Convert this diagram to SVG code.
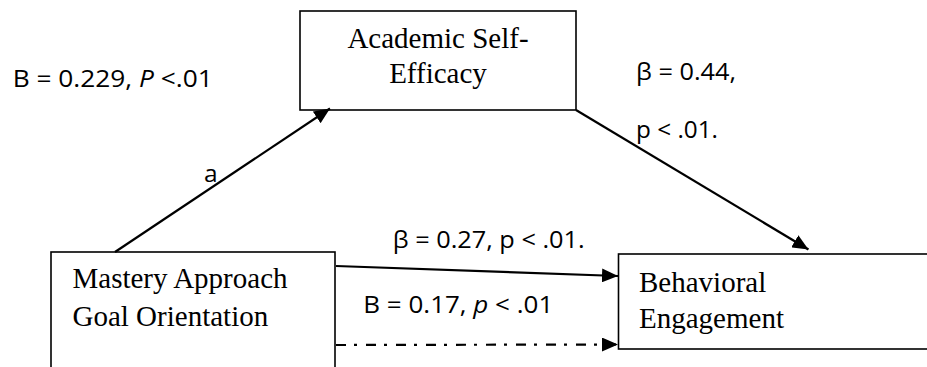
<svg xmlns="http://www.w3.org/2000/svg" width="927" height="367" viewBox="0 0 927 367">
<style>
.box{fill:#fff;stroke:#000;stroke-width:1.6}
.bt{font-family:"Liberation Serif","Times New Roman",serif;font-size:29px;fill:#000}
.lb{font-family:"Open Sans","Noto Sans",sans-serif;font-size:24.5px;fill:#000}
.ln{stroke:#000;stroke-width:2.2;fill:none}
.dd{stroke-dasharray:10 8 3 9}
</style>
<defs>
<marker id="ah" markerUnits="userSpaceOnUse" markerWidth="16" markerHeight="14" viewBox="0 0 16 14" refX="16" refY="7" orient="auto">
<path d="M0,0 L16,7 L0,14 z" fill="#000"/>
</marker>
</defs>
<rect width="927" height="367" fill="#fff"/>
<g id="n-ase">
<rect class="box" x="300" y="11" width="276" height="99"/>
<text class="bt" x="438" y="48" text-anchor="middle">Academic Self-</text>
<text class="bt" x="438" y="83" text-anchor="middle">Efficacy</text>
</g>
<g id="n-mag">
<rect class="box" x="51" y="252" width="284" height="130"/>
<text class="bt" x="72.5" y="288">Mastery Approach</text>
<text class="bt" x="72.5" y="326">Goal Orientation</text>
</g>
<g id="n-be">
<rect class="box" x="618.5" y="254" width="320" height="95"/>
<text class="bt" x="639" y="292">Behavioral</text>
<text class="bt" x="639" y="328">Engagement</text>
</g>
<g id="connectors">
<line class="ln" x1="115" y1="252" x2="330" y2="108.5" marker-end="url(#ah)"/>
<line class="ln" x1="576" y1="110" x2="808.5" y2="249.5" marker-end="url(#ah)"/>
<line class="ln" x1="336" y1="266" x2="618" y2="276" marker-end="url(#ah)"/>
<line class="ln dd" x1="336" y1="345" x2="618" y2="344.5" marker-end="url(#ah)"/>
</g>
<g id="labels">
<text class="lb" x="12.7" y="87" textLength="200" lengthAdjust="spacingAndGlyphs">B  = 0.229, <tspan font-style="italic">P</tspan> &lt;.01</text>
<text class="lb" x="636" y="80" textLength="100" lengthAdjust="spacingAndGlyphs">β = 0.44,</text>
<text class="lb" x="636" y="137.5" textLength="82" lengthAdjust="spacingAndGlyphs">p &lt; .01.</text>
<text class="lb" x="204" y="181.5">a</text>
<text class="lb" x="392.7" y="248" textLength="192" lengthAdjust="spacingAndGlyphs">β  = 0.27, p &lt; .01.</text>
<text class="lb" x="363.3" y="313" textLength="190" lengthAdjust="spacingAndGlyphs">B  = 0.17, <tspan font-style="italic">p</tspan> &lt; .01</text>
</g>
</svg>
